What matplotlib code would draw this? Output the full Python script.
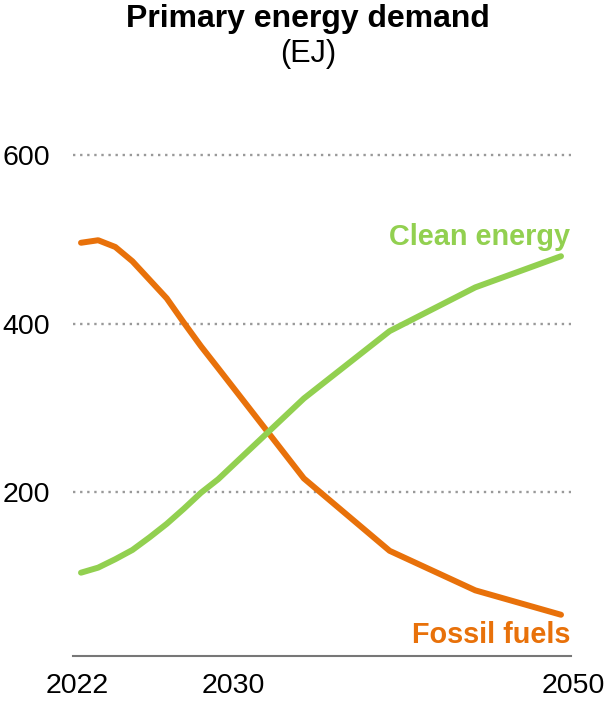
import matplotlib
matplotlib.use("Agg")
import matplotlib.pyplot as plt
from matplotlib.transforms import ScaledTranslation

plt.rcParams['font.family'] = ['Liberation Sans', 'DejaVu Sans']

# Primary energy demand by source (EJ)
years = [2022, 2023, 2024, 2025, 2026, 2027, 2028, 2029, 2030, 2035, 2040, 2045, 2050]
fossil_fuels = [496, 499, 491, 474, 452, 430, 401, 373, 347, 216, 130, 83, 54]
clean_energy = [104, 110, 120, 131, 146, 162, 180, 199, 215, 311, 391, 443, 480]

y_ticks = [200, 400, 600]
x_ticks = [2022, 2030, 2050]
x_tick_labels = ["2022", "2030", "2050"]

ORANGE = "#E8710A"
GREEN = "#92D050"

fig = plt.figure(figsize=(6.10, 7.03), dpi=100)
ax = fig.add_axes([73 / 610, 47 / 703, 498 / 610, 517.6 / 703])

ax.plot(years, fossil_fuels, color=ORANGE, lw=4.3, solid_capstyle="round",
        solid_joinstyle="round", zorder=3)
ax.plot(years, clean_energy, color=GREEN, lw=4.3, solid_capstyle="round",
        solid_joinstyle="round", zorder=3)

ax.set_xlim(2021.533, 2050.583)
ax.set_ylim(5, 620)

for s in ["top", "right", "left"]:
    ax.spines[s].set_visible(False)
ax.spines["bottom"].set_color("#777777")
ax.spines["bottom"].set_linewidth(1.5)

ax.set_yticks(y_ticks)
ax.set_yticklabels([str(v) for v in y_ticks])
ax.set_xticks(x_ticks)
ax.set_xticklabels(x_tick_labels)
ax.tick_params(axis="both", length=0, labelsize=20.5, labelcolor="black")
ax.tick_params(axis="y", pad=16.5)
ax.tick_params(axis="x", pad=12)

# nudge the year labels
offsets_px = [-4, 15, 12]
for lab, dx in zip(ax.get_xticklabels(), offsets_px):
    lab.set_transform(lab.get_transform() + ScaledTranslation(dx / 100, 0, fig.dpi_scale_trans))

ax.yaxis.grid(True, color="#999999", linestyle=(0, (1, 2.0)), linewidth=1.7)
ax.set_axisbelow(True)

# series labels at line ends
ax.annotate("Clean energy", xy=(years[-1], clean_energy[-1]), xytext=(9, 11),
            textcoords="offset pixels", ha="right", va="baseline",
            fontsize=20.8, fontweight="bold", color=GREEN)
ax.annotate("Fossil fuels", xy=(years[-1], fossil_fuels[-1]), xytext=(9, -28),
            textcoords="offset pixels", ha="right", va="baseline",
            fontsize=20.8, fontweight="bold", color=ORANGE)

fig.text(308 / 610, 1 - 19 / 703, "Primary energy demand", ha="center", va="center",
         fontsize=23, fontweight="bold", color="black")
fig.text(308 / 610, 1 - 54 / 703, "(EJ)", ha="center", va="center",
         fontsize=22, color="black")

fig.savefig("out.png", dpi=100)
